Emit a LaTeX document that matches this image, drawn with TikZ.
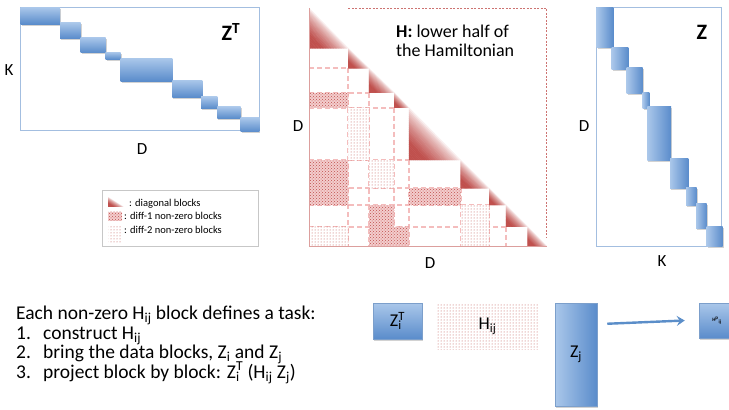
\documentclass[tikz,border=0pt]{standalone}
\usepackage{fontspec}
\setmainfont{Carlito}
\usetikzlibrary{patterns,shadows,arrows.meta}
\definecolor{hred}{HTML}{C0504D}
\definecolor{hpink}{HTML}{F4BDBD}
\definecolor{dpink}{HTML}{F3CDCD}
\definecolor{bluelt}{HTML}{AAC7EA}
\definecolor{bluedk}{HTML}{5A8CCB}
\definecolor{boxblue}{HTML}{A3BEE0}
\definecolor{edgeblue}{HTML}{7C9FCB}
\definecolor{arrblue}{HTML}{5B8EC9}
\tikzset{
  zbox/.style={draw=boxblue, line width=1.1pt},
  bshadow/.style={drop shadow={shadow xshift=1pt,shadow yshift=-1.5pt,opacity=0.35}},
  zblk/.style={bshadow, top color=bluelt, bottom color=bluedk},
  zblkh/.style={bshadow, left color=bluelt, right color=bluedk},
  dense/.style={fill=dpink, postaction={pattern=crosshatch dots, pattern color=hred}},
  sparse/.style={fill=white, postaction={pattern=dots, pattern color=hred}},
  gridline/.style={draw=hpink, line width=1.8pt, dash pattern=on 5pt off 3pt},
  axlbl/.style={font=\fontsize{17}{20}\selectfont, inner sep=0pt},
  title/.style={font=\fontsize{22}{26}\selectfont\bfseries, inner sep=0pt},
  txt/.style={font=\fontsize{19.5}{23}\selectfont, inner sep=0pt, anchor=base west},
  legtxt/.style={font=\fontsize{10.5}{12}\selectfont, inner sep=0pt, anchor=base west},
}
% diagonal block: right angle at lower left, red at the corner, white at the hypotenuse
\newcommand\htri[4]{%
  \foreach \k in {0,...,23}{%
    \pgfmathsetmacro\ta{\k/24}%
    \pgfmathsetmacro\tb{(\k+1)/24}%
    \pgfmathtruncatemacro\pc{100*(min(1,1.5*(\k+0.5)/24))^0.65}%
    \fill[hred!\pc!white, draw=hred!\pc!white, line width=0.25pt]
      (#1, {#2+\ta*(#4-#2)}) -- (#1, {#2+\tb*(#4-#2)})
      -- ({#1+(1-\tb)*(#3-#1)}, #4) -- ({#1+(1-\ta)*(#3-#1)}, #4) -- cycle;
  }}
\begin{document}
\begin{tikzpicture}[x=1pt,y=-1pt]
\clip (0,0) rectangle (729,410);
\fill[white] (0,0) rectangle (729,410);

% ---------- Z^T ----------
\draw[zbox] (20.7,7.3) rectangle (259.3,130.7);
\foreach \xa/\ya/\xb/\yb in {20.7/7.3/60/24, 60/22.7/80.7/38.3, 80.7/37.3/105.7/52.7,
  105.7/52/120.7/59.3, 120.7/58.3/172.3/81, 172.3/80/202.3/97.3, 201/96.7/217.3/108.3,
  217.3/106.7/240.7/118.3, 240.7/117.7/259.3/131.7}
  \path[zblk] (\xa,\ya) rectangle (\xb,\yb);
\node[axlbl] (zk) at (9,70) {K};
\node[axlbl] (zd) at (142,149) {D};
\node[title] (ztt) at (231,32) {Z\textsuperscript{T}};

% ---------- H ----------
\def\cA{309.3}\def\cB{348.3}\def\cC{369}\def\cD{394.3}\def\cE{409}
\def\cF{460.7}\def\cG{489.3}\def\cH{506}\def\cI{527.7}\def\cJ{546.7}
\def\rA{8.3}\def\rB{48.3}\def\rC{68.3}\def\rD{92.7}\def\rE{107.7}
\def\rF{160}\def\rG{188.3}\def\rH{205}\def\rI{226.7}\def\rJ{246}
% dashed grid
\draw[gridline] (\cA,\rC) -- (\cB,\rC);
\draw[gridline] (\cA,\rD) -- (\cC,\rD);
\draw[gridline] (\cA,\rE) -- (\cD,\rE);
\draw[gridline] (\cA,\rF) -- (\cE,\rF);
\draw[gridline] (\cA,\rG) -- (\cF,\rG);
\draw[gridline] (\cA,\rH) -- (\cG,\rH);
\draw[gridline] (\cA,\rI) -- (\cH,\rI);
\draw[gridline] (\cB,\rC) -- (\cB,\rJ);
\draw[gridline] (\cC,\rD) -- (\cC,\rJ);
\draw[gridline] (\cD,\rE) -- (\cD,\rJ);
\draw[gridline] (\cE,\rF) -- (\cE,\rJ);
\draw[gridline] (\cF,\rG) -- (\cF,\rJ);
\draw[gridline] (\cG,\rH) -- (\cG,\rJ);
\draw[gridline] (\cH,\rI) -- (\cH,\rJ);
% diff-1 blocks
\path[dense] (\cA,\rD) rectangle (\cB,\rE);
\path[dense] (\cA,\rF) rectangle (\cB,\rH);
\path[dense] (\cE,\rG) rectangle (\cF,\rH);
\path[dense] (\cC,\rH) rectangle (\cD,\rJ);
\path[dense] (\cD,\rI) rectangle (\cE,\rJ);
% diff-2 blocks
\path[sparse] (\cB,\rE) rectangle (\cC,\rF);
\path[sparse] (\cC,\rF) rectangle (\cD,\rG);
\path[sparse] (\cF,\rH) rectangle (\cG,\rJ);
\path[sparse] (\cA,\rI) rectangle (\cB,\rJ);
% diagonal blocks
\htri{\cA}{\rA}{\cB}{\rB}
\htri{\cB}{\rB}{\cC}{\rC}
\htri{\cC}{\rC}{\cD}{\rD}
\htri{\cD}{\rD}{\cE}{\rE}
\htri{\cE}{\rE}{\cF}{\rF}
\htri{\cF}{\rF}{\cG}{\rG}
\htri{\cG}{\rG}{\cH}{\rH}
\htri{\cH}{\rH}{\cI}{\rI}
\htri{\cI}{\rI}{\cJ}{\rJ}
% frame
\draw[hred!55, line width=0.9pt] (\cA,\rA) -- (\cA,\rJ) -- (\cJ,\rJ);
\draw[hred!80, line width=0.8pt, dash pattern=on 2pt off 1.5pt] (\cB,\rA) -- (\cJ,\rA) -- (\cJ,238);
\node[axlbl] (hd1) at (298,126) {D};
\node[axlbl] (hd2) at (430,263) {D};
\node[font=\fontsize{18}{22}\selectfont, inner sep=0pt, anchor=base west] (ht1) at (396,37) {\textbf{H:} lower half of};
\node[font=\fontsize{18}{22}\selectfont, inner sep=0pt, anchor=base west] (ht2) at (396,56) {the Hamiltonian};

% ---------- Z ----------
\draw[zbox] (596.7,7.3) rectangle (721.7,246.7);
\foreach \xa/\ya/\xb/\yb in {596.7/7.3/613.3/47.7, 611.7/47.7/628.3/69, 626.7/67.7/642.7/93.3,
  642.7/92.7/649.3/108.3, 647.3/106.7/671/160, 670/158.3/688.3/188.3, 686/187.3/696.7/205,
  696/203.3/706.7/228.3, 706.7/226.7/722.7/246.7}
  \path[zblkh] (\xa,\ya) rectangle (\xb,\yb);
\node[title] (zt) at (702,32) {Z};
\node[axlbl] (zdd) at (584,126) {D};
\node[axlbl] (zkk) at (662,261) {K};

% ---------- legend ----------
\draw[draw=black!22, fill=white, drop shadow={shadow xshift=1pt,shadow yshift=-1pt,opacity=0.2}] (101.7,190) rectangle (258.3,245.7);
\htri{108.3}{197.3}{123.3}{206.7}
\path[dense] (108.3,211.7) rectangle (122.3,220.7);
\path[sparse] (108.3,226.7) rectangle (122.3,243.3);
\node[legtxt] (l1) at (129,206) {: diagonal blocks};
\node[legtxt] (l2) at (124,219.5) {: diff-1 non-zero blocks};
\node[legtxt] (l3) at (124,233.5) {: diff-2 non-zero blocks};

% ---------- task text ----------
\node[txt] (t0) at (16,319) {Each non-zero H\textsubscript{ij} block defines a task:};
\node[txt] (n1) at (16,339) {1.};
\node[txt] (t1) at (43,339) {construct H\textsubscript{ij}};
\node[txt] (n2) at (16,358) {2.};
\node[txt] (t2) at (43,358) {bring the data blocks, Z\textsubscript{i} and Z\textsubscript{j}};
\node[txt] (n3) at (16,378) {3.};
\node[txt] (t3) at (43,378) {project block by block: Z\rlap{\textsubscript{i}}\textsuperscript{T} (H\textsubscript{ij} Z\textsubscript{j})};

% ---------- bottom operation ----------
\node[zblk, draw=edgeblue, line width=0.5pt, minimum width=49pt, minimum height=36pt, inner sep=0pt,
  font=\fontsize{18}{20}\selectfont] (zi) at (397.5,321) {Z\rlap{\textsubscript{i}}\textsuperscript{T}};
\node[sparse, minimum width=101pt, minimum height=45pt, inner sep=0pt,
  font=\fontsize{18}{20}\selectfont] (hij) at (487.5,326.5) {H\textsubscript{ij}};
\node[zblkh, draw=edgeblue, line width=0.5pt, minimum width=42pt, minimum height=103pt, inner sep=0pt,
  font=\fontsize{18}{20}\selectfont] (zj) at (576,354.5) {Z\textsubscript{j}};
\node[zblk, draw=edgeblue, line width=0.5pt, minimum width=42pt, minimum height=35pt, inner sep=0pt,
  font=\fontsize{5}{6}\selectfont\bfseries] (res) at (720,320.5) {\hspace*{-6pt}H\textsuperscript{p}\textsubscript{ij}};
\draw[arrblue, line width=2.4pt, -{Stealth[length=8pt,width=10pt,inset=3pt]}]
  ([xshift=10pt,yshift=-21pt]zj.north east) -- ([xshift=-14pt]res.west);
\end{tikzpicture}
\end{document}
